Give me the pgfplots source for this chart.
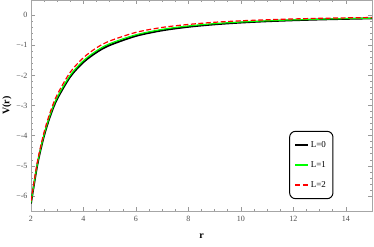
\documentclass[border=0pt]{standalone}
\usepackage{fontspec}
\setmainfont{Liberation Serif}
\usepackage{pgfplots}
\pgfplotsset{compat=1.18}
\begin{document}
\begin{tikzpicture}
\begin{axis}[
  scale only axis, width=341pt, height=211pt,
  xmin=2, xmax=15, ymin=-6.5, ymax=0.5,
  xtick={2,4,...,14}, ytick={-6,-5,...,0},
  minor x tick num=3, minor y tick num=4,
  tick align=inside, major tick length=4pt, minor tick length=2pt,
  axis line style={gray!70, line width=0.6pt},
  every tick/.style={gray!80, line width=0.5pt},
  tick label style={font=\fontsize{8}{9}\selectfont, text=black!70},
  xticklabel style={yshift=-2pt},
  /pgf/number format/assume math mode=true,
  yticklabel={\ifdim\tick pt<0pt \textminus\pgfmathprintnumber[print sign=false]{\tick}\else\pgfmathprintnumber{\tick}\fi},
  xlabel={\textbf{r}}, ylabel={\textbf{V(r)}},
  label style={font=\fontsize{10}{11}\selectfont},
  xlabel style={at={(rel axis cs:0.5,0)}, anchor=north, yshift=-19pt},
  ylabel style={yshift=-2pt},
  legend style={at={(rel axis cs:0.822,0.218)}, anchor=center, draw=black, line width=1pt, rounded corners=6pt,
    font=\fontsize{9}{10}\selectfont, row sep=8.5pt, inner xsep=5pt, inner ysep=8pt, fill=white},
  legend cell align=left,
  legend image code/.code={\draw[#1, line width=1.3pt] (0pt,0pt) -- (13pt,0pt);},
]
\addplot[black, line width=1.8pt, smooth] coordinates {
(2,-6.25) (2.25,-4.938) (2.5,-4.0) (2.75,-3.306) (3,-2.778) (3.5,-2.041) (4,-1.5625) (4.5,-1.235) (5,-1.0) (6,-0.694) (7,-0.510) (8,-0.391) (9,-0.309) (10,-0.25) (11,-0.207) (12,-0.174) (13,-0.148) (14,-0.128) (15,-0.111)};
\addlegendentry{L=0}
\addplot[green, line width=1.2pt, smooth] coordinates {
(2,-6.22) (2.25,-4.903) (2.5,-3.96) (2.75,-3.261) (3,-2.728) (3.5,-1.991) (4,-1.513) (4.5,-1.185) (5,-0.95) (6,-0.654) (7,-0.475) (8,-0.361) (9,-0.284) (10,-0.23) (11,-0.189) (12,-0.159) (13,-0.135) (14,-0.116) (15,-0.101)};
\addlegendentry{L=1}
\addplot[red, line width=1.2pt, dash pattern=on 5pt off 2.5pt, smooth] coordinates {
(2,-6.17) (2.25,-4.838) (2.5,-3.88) (2.75,-3.176) (3,-2.638) (3.5,-1.891) (4,-1.413) (4.5,-1.085) (5,-0.86) (6,-0.574) (7,-0.41) (8,-0.311) (9,-0.239) (10,-0.19) (11,-0.157) (12,-0.129) (13,-0.108) (14,-0.093) (15,-0.081)};
\addlegendentry{L=2}
\end{axis}
\pgfresetboundingbox
\path (-31pt,-35pt) rectangle (343pt,211pt);
\end{tikzpicture}
\end{document}
